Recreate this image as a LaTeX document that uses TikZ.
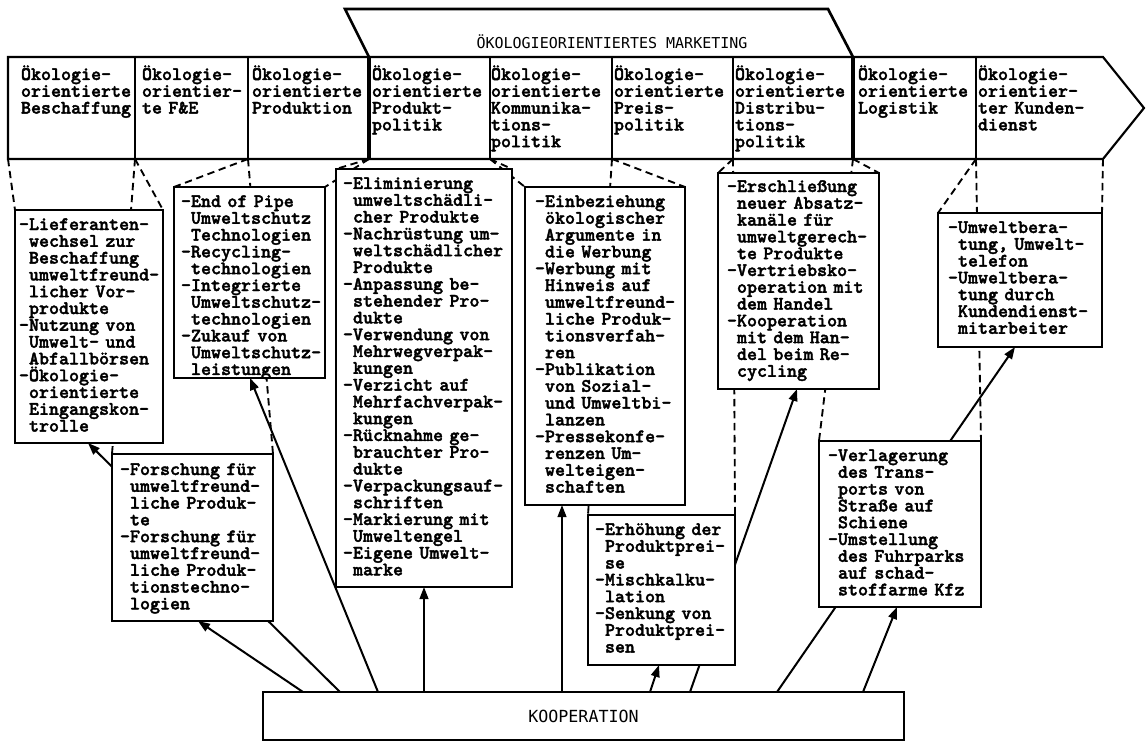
\documentclass[tikz,border=0pt]{standalone}
\usepackage{fontspec}
\newfontfamily\capsfont{DejaVu Sans Mono}
\newfontfamily\courb{lmmonolt10-bold.otf}[FakeBold=2]
\usetikzlibrary{arrows.meta,calc}
\pgfdeclarelayer{bg}
\pgfsetlayers{bg,main}
\newcommand\ind{\hphantom{-}}
\begin{document}
\begin{tikzpicture}[x=0.75pt,y=-0.75pt,
  boxst/.style={draw, line width=1.5pt, fill=white, inner sep=0pt, outer sep=0pt, anchor=north west},
  sz/.style 2 args={minimum width=#1*0.75pt, minimum height=#2*0.75pt},
  txt/.style={anchor=base west, inner sep=0pt, outer sep=0pt, align=left, text width=200pt,
    font=\courb\fontsize{14.3}{12.6}\selectfont},
  hdr/.style={line width=1.6pt, line join=miter},
  thk/.style={line width=2.4pt},
  dsh/.style={line width=1.4pt, dash pattern=on 5.5pt off 3.5pt},
  arr/.style={line width=1.5pt, -{Triangle[length=9pt,width=6.5pt]}},
  caps/.style={inner sep=0pt, font=\capsfont\fontsize{12.5}{14}\selectfont}
]
\useasboundingbox (0,0) rectangle (1147,742);

% ---------- header ----------
\coordinate (ct0) at (8,57);    \coordinate (cb0) at (8,159);
\coordinate (ct1) at (135,57);  \coordinate (cb1) at (135,159);
\coordinate (ct2) at (248,57);  \coordinate (cb2) at (248,159);
\coordinate (ct3) at (369,57);  \coordinate (cb3) at (369,159);
\coordinate (ct4) at (490,57);  \coordinate (cb4) at (490,159);
\coordinate (ct5) at (612,57);  \coordinate (cb5) at (612,159);
\coordinate (ct6) at (733,57);  \coordinate (cb6) at (733,159);
\coordinate (ct7) at (853,57);  \coordinate (cb7) at (853,159);
\coordinate (ct8) at (976,57);  \coordinate (cb8) at (976,159);
\coordinate (ct9) at (1103,57); \coordinate (cb9) at (1103,159);
\coordinate (tip) at (1144,108);

\draw[hdr] (ct0) -- (ct9) -- (tip) -- (cb9) -- (cb0) -- cycle;
\draw[hdr, line width=2pt] (ct3) -- (345,9) -- (828,9) -- (ct7);
\foreach \i in {1,2,4,5,6,8} \draw[hdr] (ct\i) -- (cb\i);
\draw[thk] (ct3) -- (cb3);
\draw[thk] (ct7) -- (cb7);

\node[caps, font=\capsfont\fontsize{11.25}{13}\selectfont] (title) at (612,42) {ÖKOLOGIEORIENTIERTES MARKETING};

\node[txt] (h1) at (21,80) {Ökologie-\\orientierte\\Beschaffung};
\node[txt] (h2) at (142,80) {Ökologie-\\orientier-\\te F\&E};
\node[txt] (h3) at (252,80) {Ökologie-\\orientierte\\Produktion};
\node[txt] (h4) at (372,80) {Ökologie-\\orientierte\\Produkt-\\politik};
\node[txt] (h5) at (491,80) {Ökologie-\\orientierte\\Kommunika-\\tions-\\politik};
\node[txt] (h6) at (614,80) {Ökologie-\\orientierte\\Preis-\\politik};
\node[txt] (h7) at (735,80) {Ökologie-\\orientierte\\Distribu-\\tions-\\politik};
\node[txt] (h8) at (858,80) {Ökologie-\\orientierte\\Logistik};
\node[txt] (h9) at (978,80) {Ökologie-\\orientier-\\ter Kunden-\\dienst};

% ---------- boxes ----------
\node[boxst, sz={148}{233}] (b1) at (15,210) {};
\node[boxst, sz={151}{191}] (b2) at (174,187) {};
\node[boxst, sz={176}{418}] (b3) at (336,169) {};
\node[boxst, sz={160}{318}] (b4) at (525,187) {};
\node[boxst, sz={161}{216}] (b5) at (718,173) {};
\node[boxst, sz={164}{134}] (b6) at (938,213) {};
\node[boxst, sz={161}{167}] (b7) at (112,454) {};
\node[boxst, sz={147}{150}] (b8) at (588,515) {};
\node[boxst, sz={162}{166}] (b9) at (819,441) {};
\node[boxst, sz={641}{48}, caps] (koop) at (263,692) {KOOPERATION};

\node[txt] (t1) at (19,230) {-Lieferanten-\\\ind wechsel zur\\\ind Beschaffung\\\ind umweltfreund-\\\ind licher Vor-\\\ind produkte\\-Nutzung von\\\ind Umwelt- und\\\ind Abfallbörsen\\-Ökologie-\\\ind orientierte\\\ind Eingangskon-\\\ind trolle};
\node[txt] (t2) at (181,207) {-End of Pipe\\\ind Umweltschutz\\\ind Technologien\\-Recycling-\\\ind technologien\\-Integrierte\\\ind Umweltschutz-\\\ind technologien\\-Zukauf von\\\ind Umweltschutz-\\\ind leistungen};
\node[txt] (t3) at (343,189) {-Eliminierung\\\ind umweltschädli-\\\ind cher Produkte\\-Nachrüstung um-\\\ind weltschädlicher\\\ind Produkte\\-Anpassung be-\\\ind stehender Pro-\\\ind dukte\\-Verwendung von\\\ind Mehrwegverpak-\\\ind kungen\\-Verzicht auf\\\ind Mehrfachverpak-\\\ind kungen\\-Rücknahme ge-\\\ind brauchter Pro-\\\ind dukte\\-Verpackungsauf-\\\ind schriften\\-Markierung mit\\\ind Umweltengel\\-Eigene Umwelt-\\\ind marke};
\node[txt] (t4) at (535,207) {-Einbeziehung\\\ind ökologischer\\\ind Argumente in\\\ind die Werbung\\-Werbung mit\\\ind Hinweis auf\\\ind umweltfreund-\\\ind liche Produk-\\\ind tionsverfah-\\\ind ren\\-Publikation\\\ind von Sozial-\\\ind und Umweltbi-\\\ind lanzen\\-Pressekonfe-\\\ind renzen Um-\\\ind welteigen-\\\ind schaften};
\node[txt] (t5) at (727,192) {-Erschließung\\\ind neuer Absatz-\\\ind kanäle für\\\ind umweltgerech-\\\ind te Produkte\\-Vertriebsko-\\\ind operation mit\\\ind dem Handel\\-Kooperation\\\ind mit dem Han-\\\ind del beim Re-\\\ind cycling};
\node[txt] (t6) at (948,233) {-Umweltbera-\\\ind tung, Umwelt-\\\ind telefon\\-Umweltbera-\\\ind tung durch\\\ind Kundendienst-\\\ind mitarbeiter};
\node[txt] (t7) at (120,475) {-Forschung für\\\ind umweltfreund-\\\ind liche Produk-\\\ind te\\-Forschung für\\\ind umweltfreund-\\\ind liche Produk-\\\ind tionstechno-\\\ind logien};
\node[txt] (t8) at (595,535) {-Erhöhung der\\\ind Produktprei-\\\ind se\\-Mischkalku-\\\ind lation\\-Senkung von\\\ind Produktprei-\\\ind sen};
\node[txt] (t9) at (828,461) {-Verlagerung\\\ind des Trans-\\\ind ports von\\\ind Straße auf\\\ind Schiene\\-Umstellung\\\ind des Fuhrparks\\\ind auf schad-\\\ind stoffarme Kfz};

% ---------- connectors (behind boxes) ----------
\begin{pgfonlayer}{bg}
  \draw[dsh] (cb0) -- (b1.north west);
  \draw[dsh] (cb1) -- (b1.north east);
  \draw[dsh] (cb1) -- (b7.north west);
  \draw[dsh] (cb2) -- (b7.north east);
  \draw[dsh] (cb2) -- (b2.north west);
  \draw[dsh] (cb3) -- (b2.north east);
  \draw[dsh] (cb3) -- (b3.north west);
  \draw[dsh] (cb4) -- (b3.north east);
  \draw[dsh] (cb4) -- (b4.north west);
  \draw[dsh] (cb5) -- (b4.north east);
  \draw[dsh] (cb5) -- (b8.north west);
  \draw[dsh] (cb6) -- (b8.north east);
  \draw[dsh] (cb6) -- (b5.north west);
  \draw[dsh] (cb7) -- (b5.north east);
  \draw[dsh] (cb7) -- (b9.north west);
  \draw[dsh] (cb8) -- (b9.north east);
  \draw[dsh] (cb8) -- (b6.north west);
  \draw[dsh] (cb9) -- (b6.north east);

  \draw[arr] ($(koop.north west)+(40,0)$)  -- ($(b7.south west)+(86,0)$);
  \draw[arr] ($(koop.north west)+(77,0)$)  -- ($(b1.south west)+(73,0)$);
  \draw[arr] ($(koop.north west)+(115,0)$) -- ($(b2.south west)+(76,0)$);
  \draw[arr] ($(koop.north west)+(161,0)$) -- ($(b3.south west)+(88,0)$);
  \draw[arr] ($(koop.north west)+(299,0)$) -- ($(b4.south west)+(37,0)$);
  \draw[arr] ($(koop.north west)+(387,0)$) -- ($(b8.south west)+(71,0)$);
  \draw[arr] ($(koop.north west)+(427,0)$) -- ($(b5.south west)+(79,0)$);
  \draw[arr] ($(koop.north west)+(514,0)$) -- ($(b6.south west)+(77,0)$);
  \draw[arr] ($(koop.north west)+(600,0)$) -- ($(b9.south west)+(78,0)$);
\end{pgfonlayer}
\end{tikzpicture}
\end{document}
